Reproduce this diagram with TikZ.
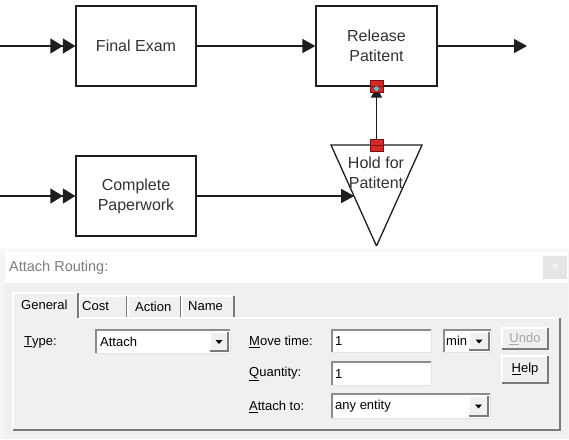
\documentclass[tikz,border=0pt]{standalone}
\usepackage{fontspec}
\setmainfont{Liberation Sans}
\usetikzlibrary{arrows.meta}
\definecolor{ink}{HTML}{1E1E1E}
\definecolor{txt}{HTML}{333333}
\definecolor{dlgbg}{HTML}{F0F0F0}
\definecolor{outerbg}{HTML}{F4F4F4}
\definecolor{fieldsh}{HTML}{8C8C8C}
\definecolor{fieldhl}{HTML}{E4E4E4}
\definecolor{darkedge}{HTML}{7A7A7A}
\definecolor{portred}{HTML}{D42A2A}
\definecolor{portdark}{HTML}{7A1010}
\definecolor{portcyan}{HTML}{3FD3E6}
\definecolor{closebg}{HTML}{E6E6E6}
\definecolor{titletxt}{HTML}{7E7E7E}
\definecolor{graytxt}{HTML}{A6A6A6}
\newcommand\dlgsunken[4]{%
  \fill[white] (#1,#2) rectangle (#3,#4);
  \draw[fieldsh,line width=1.6pt] (#1,#4) -- (#1,#2) -- (#3,#2);
  \draw[fieldhl,line width=1pt] (#1,#4) -- (#3,#4) -- (#3,#2);
}
\newcommand\dlgraised[4]{%
  \fill[dlgbg] (#1,#2) rectangle (#3,#4);
  \draw[white,line width=1.2pt] (#1,#4) -- (#1,#2) -- (#3,#2);
  \draw[darkedge,line width=1.4pt] (#1,#4) -- (#3,#4) -- (#3,#2);
}
\newcommand\dlgdrop[4]{%
  \dlgraised{#1}{#2}{#3}{#4}
  \fill[black] ({(#1+#3)/2-3.5},{(#2+#4)/2-1.5}) -- ++(7,0) -- ++(-3.5,4) -- cycle;
}
\begin{document}
\begin{tikzpicture}[x=1pt,y=-1pt,
  box/.style={draw=ink,line width=1.3pt,minimum width=120pt,minimum height=80pt,
    inner sep=0pt,align=center,font=\fontsize{16}{20}\selectfont,text=txt},
  conn/.style={draw=ink,line width=1.3pt},
  tip/.style={-{Triangle[length=13pt,width=14pt]}},
  smalltip/.style={-{Triangle[length=11pt,width=11pt]}},
  dtip/.style={-{Triangle[length=12.5pt,width=15pt]Triangle[length=12.5pt,width=15pt]}},
  port/.style={draw=portdark,fill=portred,minimum width=13pt,minimum height=12pt,
    inner sep=0pt,line width=0.8pt},
  lbl/.style={anchor=west,inner sep=0pt,font=\fontsize{13}{15}\selectfont,text=black},
  tabtxt/.style={anchor=west,inner sep=0pt,font=\fontsize{13}{15}\selectfont,text=black}
]
\useasboundingbox (0,0) rectangle (569,439);
\fill[white] (0,0) rectangle (569,439);

% ---------- process diagram ----------
\node[box] (final) at (136,46) {Final Exam};
\node[box] (complete) at (136,196) {Complete\\Paperwork};
\node[box,minimum width=121pt] (release) at (376.5,46) {Release\\Patitent};

\coordinate (tl) at (331,145);
\coordinate (tr) at (422,145);
\coordinate (tb) at (376.5,246);
\coordinate (holdtop) at (376.5,145);
\coordinate (holdin) at (354.2,196);
\draw[ink,line width=1.3pt,line join=miter] (tl) -- (tr) -- (tb) -- cycle;
\node[align=center,inner sep=0pt,font=\fontsize{16}{20}\selectfont,text=txt] (hold) at (376,173) {Hold for\\Patitent};

\coordinate (inA) at (0,46);
\coordinate (inB) at (0,196);
\coordinate (outA) at (527,46);

\draw[conn,dtip] (inA) -- (final.west);
\draw[conn,tip] (final.east) -- (release.west);
\draw[conn,tip] (release.east) -- (outA);
\draw[conn,dtip] (inB) -- (complete.west);
\draw[conn,tip] (complete.east) -- (holdin);
\draw[conn,smalltip] (holdtop) -- (release.south);

\node[port] (portR) at (release.south) {};
\draw[portdark,line width=0.8pt] (portR.west) -- (portR.east);
\fill[portcyan] ([yshift=-2pt]portR.center) circle (2.3);
\node[port] (portH) at (holdtop) {};
\draw[portdark,line width=0.8pt] (portH.west) -- (portH.east);

% ---------- dialog ----------
\shade[top color=white,bottom color=outerbg] (0,246) rectangle (569,252);
\fill[outerbg] (0,252) rectangle (569,439);
\fill[dlgbg] (5,252) rectangle (568,439);
\fill[white] (5,252) rectangle (568,283);
\node[fill=closebg,minimum width=24pt,minimum height=23pt,inner sep=0pt,
  text=white,font=\fontsize{12}{12}\selectfont] (close) at (555,267.5) {×};
\node[anchor=west,inner sep=0pt,text=titletxt,font=\fontsize{14.5}{16}\selectfont] (title) at (9,268) {Attach Routing:};

% tab panel
\draw[white,line width=1.2pt] (13,430) -- (13,318) -- (560,318);
\draw[darkedge,line width=1.5pt] (13,430) -- (560,430) -- (560,318);
% tabs (unselected)
\fill[dlgbg] (79,296) rectangle (127,317);
\draw[white,line width=1.1pt] (79,317) -- (79,296) -- (127,296);
\draw[darkedge,line width=1.3pt] (127,296) -- (127,317);
\fill[dlgbg] (128,296) rectangle (181,317);
\draw[white,line width=1.1pt] (128,317) -- (128,296) -- (181,296);
\draw[darkedge,line width=1.3pt] (181,296) -- (181,317);
\fill[dlgbg] (182,296) rectangle (234,317);
\draw[white,line width=1.1pt] (182,317) -- (182,296) -- (234,296);
\draw[darkedge,line width=1.3pt] (234,296) -- (234,317);
% selected tab
\fill[dlgbg] (13,293) rectangle (78,319);
\draw[white,line width=1.2pt] (13,319) -- (13,293) -- (78,293);
\draw[darkedge,line width=1.4pt] (78,293) -- (78,318);
\node[tabtxt] (tgen) at (21,304.5) {General};
\node[tabtxt] (tcost) at (82,306.5) {Cost};
\node[tabtxt] (tact) at (135,306.5) {Action};
\node[tabtxt] (tname) at (188,306.5) {Name};

% labels
\node[lbl] (ltype) at (24,342) {\underline{T}ype:};
\node[lbl] (lmove) at (249,342) {\underline{M}ove time:};
\node[lbl] (lqty) at (249,374) {\underline{Q}uantity:};
\node[lbl] (latt) at (249,407) {\underline{A}ttach to:};

% type combo
\dlgsunken{96}{330}{230}{353}
\dlgdrop{210}{332}{228}{351}
\node[lbl] (vtype) at (100,342) {Attach};

% move time field
\dlgsunken{332}{330}{431}{352}
\node[lbl] (vmove) at (335,341) {1};

% min combo
\dlgsunken{444}{330}{491}{352}
\dlgdrop{469}{332}{489}{350}
\node[lbl] (vmin) at (446,341) {min};

% quantity field
\dlgsunken{332}{362}{431}{385}
\node[lbl] (vqty) at (335,374) {1};

% attach to combo
\dlgsunken{332}{394}{490}{418}
\dlgdrop{469}{396}{488}{416}
\node[lbl] (vatt) at (335,406) {any entity};

% buttons
\dlgraised{502}{328}{548}{349}
\node[font=\fontsize{13}{15}\selectfont,text=graytxt,inner sep=0pt] (undo) at (525,339) {\underline{U}ndo};
\dlgraised{502}{356}{548}{383}
\node[font=\fontsize{13}{15}\selectfont,text=black,inner sep=0pt] (help) at (525,369.5) {\underline{H}elp};
\end{tikzpicture}
\end{document}
